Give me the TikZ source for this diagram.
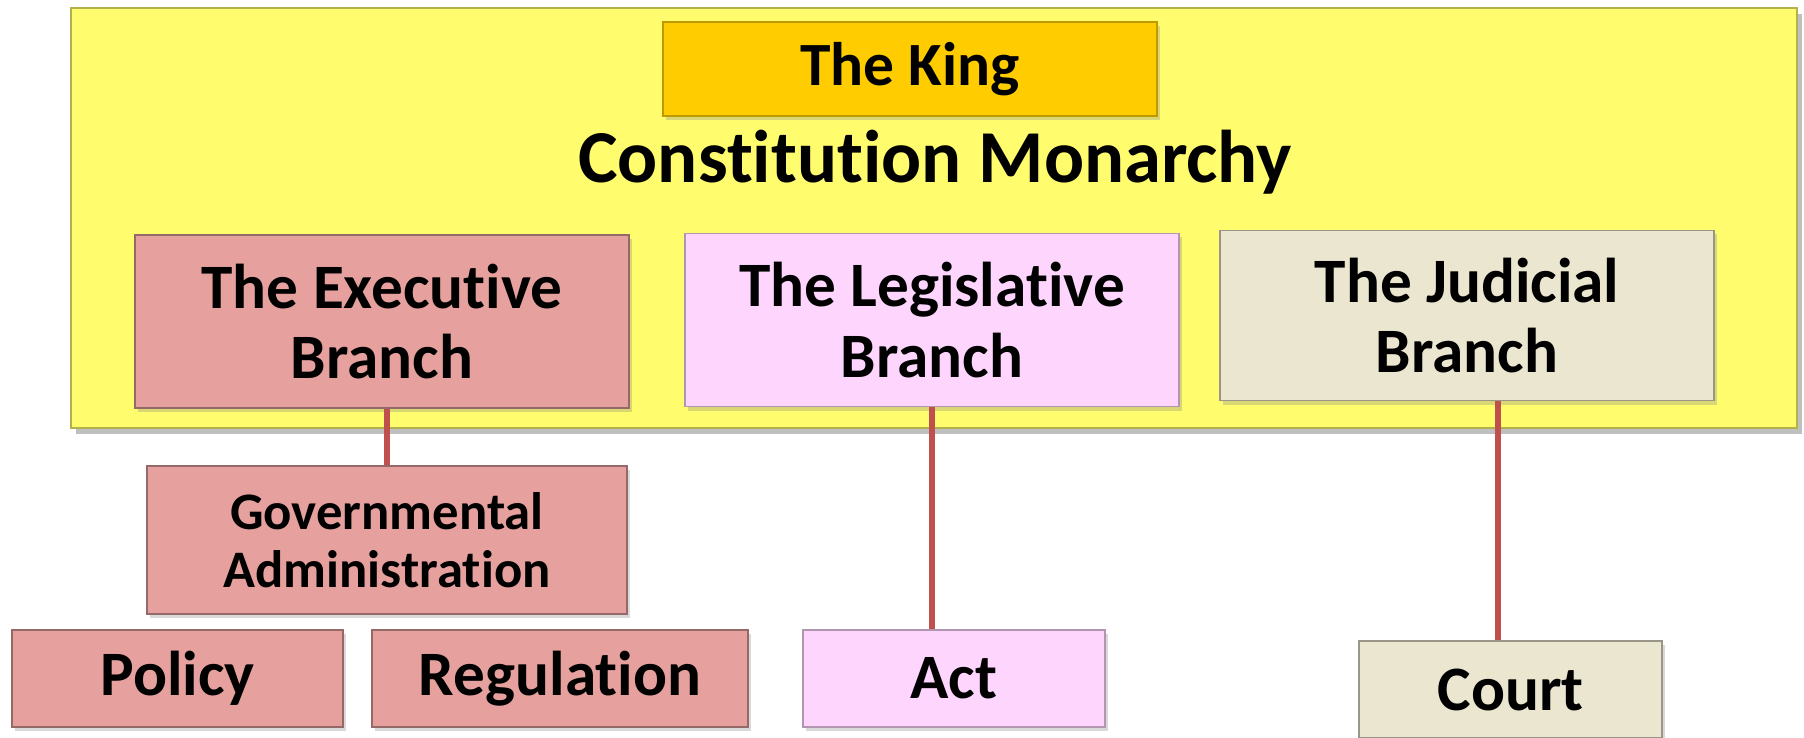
\documentclass[tikz,border=0pt]{standalone}
\usepackage{fontspec}
\setmainfont{Carlito}[Ligatures=NoCommon]
\usetikzlibrary{shadows}

\definecolor{panelyellow}{HTML}{FFFD6E}
\definecolor{kinggold}{HTML}{FFCC00}
\definecolor{execred}{HTML}{E6A19F}
\definecolor{legpink}{HTML}{FDD5FD}
\definecolor{judbeige}{HTML}{EBE6D0}
\definecolor{linkred}{HTML}{C0504D}

\begin{document}
\begin{tikzpicture}[
  box/.style={rectangle, draw, line width=0.6pt, inner sep=0pt, align=center,
    font=\bfseries\fontsize{36}{40}\selectfont,
    drop shadow={opacity=0.3, shadow xshift=0.6mm, shadow yshift=-0.8mm}},
  execbox/.style={box, fill=execred, draw=execred!65!black},
  legbox/.style={box, fill=legpink, draw=legpink!70!black},
  judbox/.style={box, fill=judbeige, draw=judbeige!65!black},
  link/.style={draw=linkred, line width=3.5pt}
]

\useasboundingbox (0,0) rectangle (36.08,14.74);

% the yellow frame
\fill[black, opacity=0.25] (1.52,14.46) rectangle (36.04,6.06);
\filldraw[fill=panelyellow, draw=panelyellow!70!black, line width=0.6pt] (1.42,14.58) rectangle (35.94,6.18);

\node[box, fill=kinggold, draw=kinggold!75!black, minimum width=9.88cm, minimum height=1.88cm,
  font=\bfseries\fontsize{35}{40}\selectfont] (king) at (18.2,13.36) {The King};
\node[anchor=base, font=\bfseries\fontsize{42.5}{46}\selectfont] (title) at (18.7,11.08) {Constitution Monarchy};

\node[execbox, minimum width=9.88cm, minimum height=3.46cm] (exec) at (7.64,8.31) {The Executive\\Branch};
\node[legbox, minimum width=9.88cm, minimum height=3.46cm] (leg) at (18.64,8.34) {The Legislative\\Branch};
\node[judbox, minimum width=9.88cm, minimum height=3.40cm] (jud) at (29.34,8.43) {The Judicial\\Branch};

\node[execbox, minimum width=9.6cm, minimum height=2.96cm,
  font=\bfseries\fontsize{30}{33}\selectfont] (gov) at (7.74,3.94) {Governmental\\Administration};

\node[execbox, minimum width=6.62cm, minimum height=1.94cm] (policy) at (3.55,1.17) {Policy};
\node[execbox, minimum width=7.52cm, minimum height=1.94cm] (reg) at (11.2,1.17) {Regulation};
\node[legbox, minimum width=6.04cm, minimum height=1.94cm] (act) at (19.08,1.17) {Act};
\node[judbox, minimum width=6.06cm, minimum height=1.94cm] (court) at (30.21,0.95) {Court};

\coordinate (cj) at ([xshift=-2.5mm]court.north);

\draw[link] (exec.south -| gov.north) -- (gov.north);
\draw[link] (leg.south) -- (leg.south |- act.north);
\draw[link] (cj |- jud.south) -- (cj);

\end{tikzpicture}
\end{document}
